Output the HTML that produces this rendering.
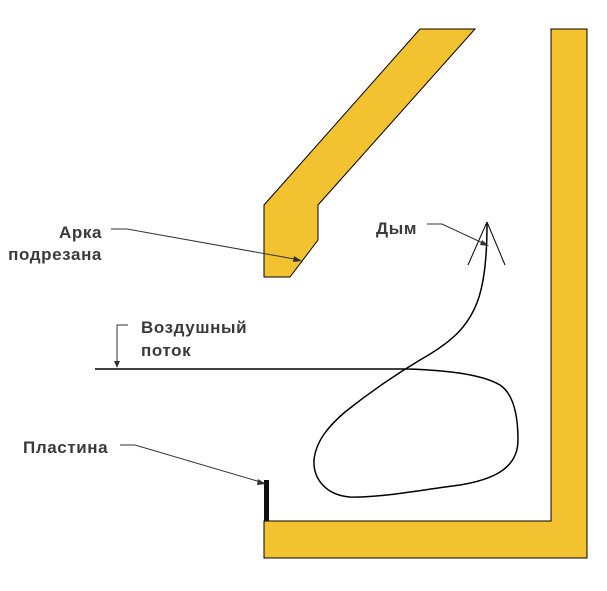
<!DOCTYPE html>
<html><head><meta charset="utf-8"><style>
html,body{margin:0;padding:0;background:#fff;}
svg{display:block;}
text{font-family:"Liberation Sans","DejaVu Sans",sans-serif;font-weight:bold;font-size:17px;letter-spacing:0.6px;fill:#3a3a3a;}
</style></head><body>
<svg width="607" height="591" viewBox="0 0 607 591" xmlns="http://www.w3.org/2000/svg">
<polygon points="420,29 475,29 318,205 318,240 290,277 264,277 264,205" fill="#f2c230" stroke="#000" stroke-width="1"/>
<polygon points="551,29 587,29 587,558 264,558 264,521 551,521" fill="#f2c230" stroke="#000" stroke-width="1"/>
<rect x="264" y="480" width="5" height="41" fill="#111"/>
<path d="M95,369 L408,369 C440,370 480,373 500,385 C515,395 518,420 518,440 C518,470 490,480 460,485 C420,490 380,498 350,497 C325,495 313,478 314,460 C316,440 330,425 345,412 C370,392 395,375 420,360 C450,343 468,328 478,300 C485,280 487,250 487,224" fill="none" stroke="#000" stroke-width="1.5"/>
<line x1="487" y1="222" x2="468" y2="265" stroke="#000" stroke-width="1"/>
<line x1="487" y1="222" x2="505" y2="265" stroke="#000" stroke-width="1"/>
<g stroke="#333" stroke-width="1" fill="none">
<path d="M111,229 L127,229 L300,260"/>
<path d="M128,325 L117,325 L117,366"/>
<path d="M120,445 L135,445 L264,483"/>
<path d="M427,224 L442,224 L487,245"/>
</g>
<g fill="#333">
<polygon points="302,261 294,256 293,262"/>
<polygon points="117,368 114,361 120,361"/>
<polygon points="266,484 258,479 257,485"/>
<polygon points="489,246 482,240 480,245"/>
</g>
<text x="102" y="238" text-anchor="end">Арка</text>
<text x="102" y="260" text-anchor="end">подрезана</text>
<text x="141" y="333">Воздушный</text>
<text x="141" y="356">поток</text>
<text x="23" y="453">Пластина</text>
<text x="376" y="234">Дым</text>
</svg>
</body></html>
